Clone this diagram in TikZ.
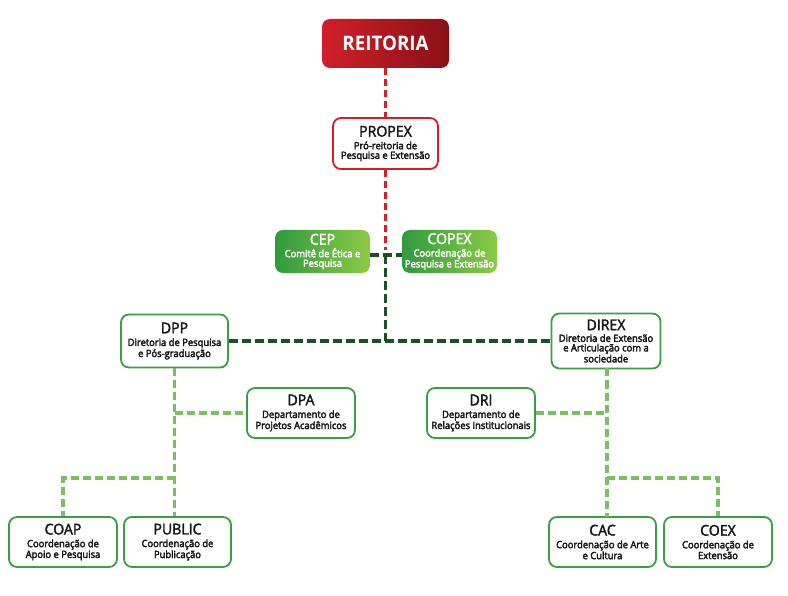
\documentclass[tikz,border=0pt]{standalone}
\usepackage{fontspec}
\setmainfont{Open Sans}[FakeStretch=0.94]
\definecolor{rred}{HTML}{D0202A}
\definecolor{rdark}{HTML}{8A1016}
\definecolor{gborder}{HTML}{3D9C45}
\definecolor{gdark}{HTML}{1F4E2C}
\definecolor{glight}{HTML}{7DBE62}
\definecolor{gleft}{HTML}{2F9A3E}
\definecolor{gright}{HTML}{8DCB46}
\definecolor{txt}{HTML}{151515}
\newcommand{\heavier}{\special{pdf:literal direct 2 Tr 0.3 w}}
\tikzset{
  box/.style={rectangle, rounded corners=8pt, line width=1.8pt, draw=gborder, fill=white,
    align=center, text=txt, inner sep=1pt, font=\fontsize{10}{9.6}\selectfont},
  gbox/.style={rectangle, rounded corners=8pt, draw=none, left color=gleft, right color=gright,
    align=center, text=white, inner sep=1pt, font=\fontsize{10}{9.6}\selectfont},
  redline/.style={draw=rred, line width=3.5pt, dash pattern=on 7pt off 4pt},
  darkline/.style={draw=gdark, line width=3.8pt, dash pattern=on 9pt off 4pt},
  lightline/.style={draw=glight, line width=3.8pt, dash pattern=on 8pt off 4pt},
}
\newcommand{\ttl}[1]{{\fontsize{15}{15}\selectfont #1}}
\newcommand{\sub}[1]{#1}
\begin{document}
\begin{tikzpicture}[x=1pt,y=-1pt]
\useasboundingbox (0,0) rectangle (788,596);
% nodes
\node[rectangle, rounded corners=8pt, left color=rred, right color=rdark, text=white,
  minimum width=127pt, minimum height=49pt, font=\fontsize{20}{22}\selectfont\bfseries] (reit) at (385.5,43.5) {REITORIA};
\node[box, draw=rred, minimum width=105pt, minimum height=51pt] (prop) at (385.5,143.5)
  {\heavier\ttl{PROPEX}\\[3pt]\sub{Pró-reitoria de}\\\sub{Pesquisa e Extensão}};
\node[gbox, minimum width=95pt, minimum height=43pt] (cep) at (322.5,251.5)
  {\heavier\ttl{CEP}\\[3pt]\sub{Comitê de Ética e}\\\sub{Pesquisa}};
\node[gbox, minimum width=95pt, minimum height=43pt] (copex) at (449.5,251.5)
  {\heavier\ttl{COPEX}\\[3pt]\sub{Coordenação de}\\\sub{Pesquisa e Extensão}};
\node[box, minimum width=107pt, minimum height=53pt] (dpp) at (174.5,341)
  {\heavier\ttl{DPP}\\[3pt]\sub{Diretoria de Pesquisa}\\\sub{e Pós-graduação}};
\node[box, minimum width=109pt, minimum height=55pt] (direx) at (606,341)
  {\heavier\ttl{DIREX}\\[2pt]\sub{Diretoria de Extensão}\\\sub{e Articulação com a}\\\sub{sociedade}};
\node[box, minimum width=108pt, minimum height=50pt] (dpa) at (301,413)
  {\heavier\ttl{DPA}\\[3pt]\sub{Departamento de}\\\sub{Projetos Acadêmicos}};
\node[box, minimum width=108pt, minimum height=50pt] (dri) at (481,413)
  {\heavier\ttl{DRI}\\[3pt]\sub{Departamento de}\\\sub{Relações Institucionais}};
\node[box, minimum width=108pt, minimum height=50pt] (coap) at (63,542)
  {\heavier\ttl{COAP}\\[3pt]\sub{Coordenação de}\\\sub{Apoio e Pesquisa}};
\node[box, minimum width=107pt, minimum height=50pt] (public) at (177.5,542)
  {\heavier\ttl{PUBLIC}\\[3pt]\sub{Coordenação de}\\\sub{Publicação}};
\node[box, minimum width=107pt, minimum height=50pt] (cac) at (602.5,542)
  {\heavier\ttl{CAC}\\[3pt]\sub{Coordenação de Arte}\\\sub{e Cultura}};
\node[box, minimum width=108pt, minimum height=50pt] (coex) at (718,542)
  {\heavier\ttl{COEX}\\[3pt]\sub{Coordenação de}\\\sub{Extensão}};
% junctions
\coordinate (jr) at (385.5,250);
\coordinate (jc) at (385.5,255);
\coordinate (jm) at (385.5,341);
\coordinate (jl) at (174.5,478);
\coordinate (jrr) at (607,478);
% red connectors
\draw[redline] (reit.south) -- (prop.north);
\draw[redline] (prop.south) -- (jr);
% dark green connectors
\draw[darkline] (cep.east |- jc) -- (copex.west |- jc);
\draw[darkline] (jc) -- (jm);
\draw[darkline] (dpp.east) -- (direx.west);
% light green left
\draw[lightline] (dpp.south) -- (dpp.south |- public.north);
\draw[lightline] (dpp.south |- dpa.west) -- (dpa.west);
\draw[lightline] (jl) -- (coap.north |- jl) -- (coap.north);
% light green right
\draw[lightline] (607,368.5) -- (607,517);
\draw[lightline] (dri.east) -- (607,413);
\draw[lightline] (jrr) -- (coex.north |- jrr) -- (coex.north);
\end{tikzpicture}
\end{document}
